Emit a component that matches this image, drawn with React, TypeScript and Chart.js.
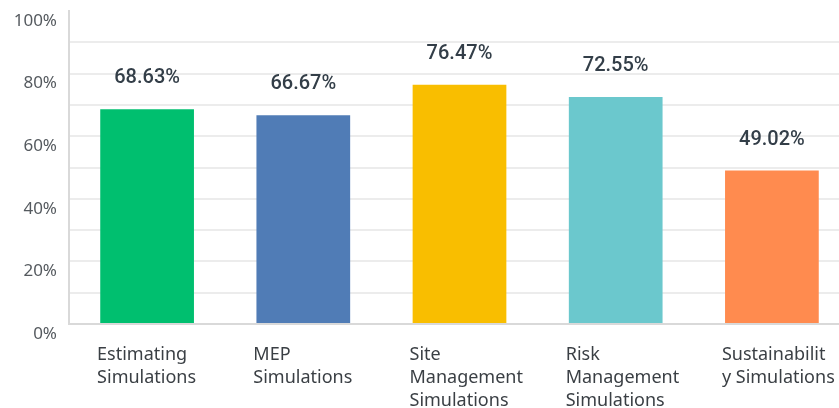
import React, { useEffect, useRef } from "react";
import { Chart, registerables } from "chart.js";

Chart.register(...registerables);

const categories: string[][] = [
  ["Estimating", "Simulations"],
  ["MEP", "Simulations"],
  ["Site", "Management", "Simulations"],
  ["Risk", "Management", "Simulations"],
  ["Sustainabilit", "y Simulations"],
];
const values: number[] = [68.63, 66.67, 76.47, 72.55, 49.02];
const colors: string[] = ["#00BF6F", "#507CB6", "#F9BE00", "#6BC8CD", "#FF8B4F"];
const yTickValues: number[] = [0, 20, 40, 60, 80, 100];

const valueLabels = {
  id: "valueLabels",
  afterDatasetsDraw(chart: any) {
    const ctx = chart.ctx;
    const meta = chart.getDatasetMeta(0);
    ctx.save();
    ctx.font = "500 20px Roboto, 'Liberation Sans', sans-serif";
    ctx.fillStyle = "#333e48";
    ctx.textAlign = "center";
    ctx.textBaseline = "middle";
    meta.data.forEach((bar: any, i: number) => {
      ctx.fillText(values[i].toFixed(2) + "%", bar.x, bar.y - 31);
    });
    ctx.restore();
  },
};

export default function App() {
  const ref = useRef<HTMLCanvasElement | null>(null);
  useEffect(() => {
    if (!ref.current) return;
    const chart = new Chart(ref.current, {
      type: "bar",
      data: {
        labels: categories as any,
        datasets: [
          {
            data: values,
            backgroundColor: colors,
            borderWidth: 0,
            barPercentage: 0.6,
            categoryPercentage: 1,
          },
        ],
      },
      options: {
        animation: false,
        responsive: false,
        maintainAspectRatio: false,
        layout: { padding: 0 },
        plugins: { legend: { display: false }, tooltip: { enabled: false } },
        scales: {
          x: {
            offset: true,
            grid: { display: false, drawTicks: false },
            border: { display: true, color: "#d9d9d9", width: 2 },
            ticks: {
              align: "start",
              labelOffset: -50,
              padding: 19,
              maxRotation: 0,
              autoSkip: false,
              color: "#3a3f44",
              font: { family: "'Noto Sans', sans-serif", size: 18, lineHeight: "23px" },
            },
            afterFit(scale: any) {
              scale.height = 84;
              scale.paddingLeft = 0;
              scale.paddingRight = 0;
            },
          },
          y: {
            min: 0,
            max: 100,
            grid: {
              drawTicks: false,
              color: (c: any) => (c.tick && c.tick.value === 100 ? "rgba(0,0,0,0)" : "#ececec"),
              lineWidth: 2,
            },
            border: { display: true, color: "#d9d9d9", width: 2 },
            ticks: {
              stepSize: 10,
              padding: 12,
              labelOffset: 10,
              color: "#555a5f",
              font: { family: "'Noto Sans', sans-serif", size: 17 },
              callback: (v: any) => (yTickValues.includes(Number(v)) ? v + "%" : ""),
            },
            afterFit(scale: any) {
              scale.width = 69;
              scale.paddingTop = 11;
              scale.paddingBottom = 0;
            },
          },
        },
      },
      plugins: [valueLabels],
    });
    return () => chart.destroy();
  }, []);
  return (
    <div style={{ position: "fixed", left: 0, top: 0, width: 839, height: 408, overflow: "hidden", background: "#fff" }}>
      <canvas ref={ref} width={850} height={408} style={{ display: "block" }} />
    </div>
  );
}
